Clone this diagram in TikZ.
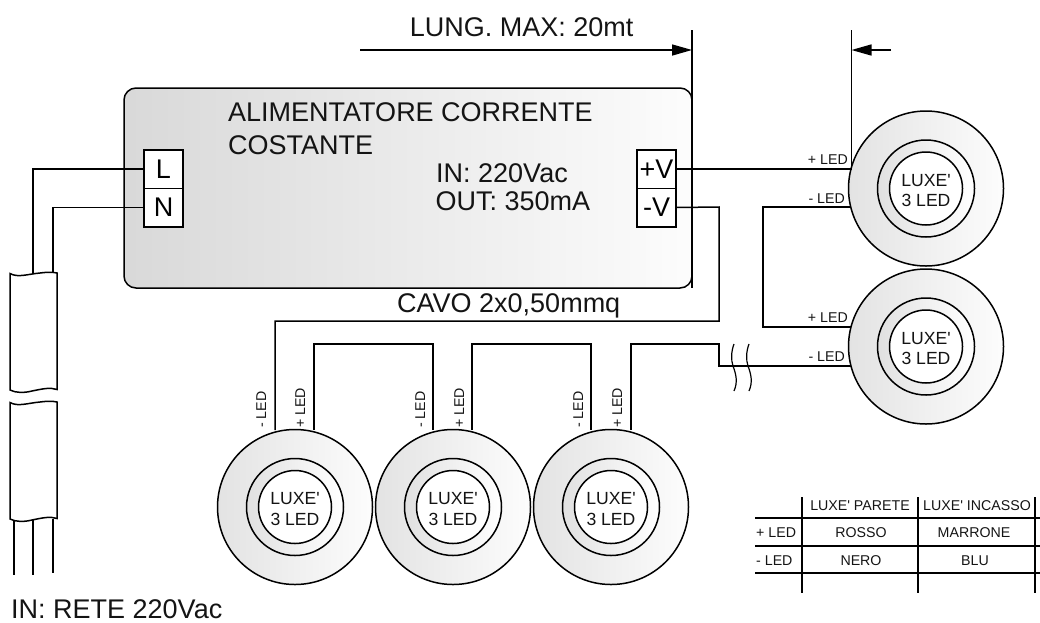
\documentclass[tikz,border=0pt]{standalone}
\usepackage{fontspec}
\setmainfont{Liberation Sans}
\usetikzlibrary{arrows.meta}
\newcommand{\fbig}{\fontsize{27}{29}\selectfont}
\newcommand{\fmid}{\fontsize{17.6}{19}\selectfont}
\newcommand{\fsmall}{\fontsize{14.2}{16}\selectfont}
\tikzset{
  wire/.style={line width=1.5pt,draw=black},
  dimline/.style={wire,-{Triangle[length=20pt,width=11pt]}},
  term/.style={draw=black,line width=1.5pt,fill=white,minimum width=39pt,minimum height=38.5pt,inner sep=0pt,outer sep=0pt,font=\fbig},
  bigtext/.style={anchor=base west,inner sep=0pt,font=\fbig,text=black!92},
  ledtext/.style={inner sep=0pt,font=\fsmall,text=black!92},
  cell/.style={anchor=base,inner sep=0pt,font=\fsmall,text=black!92},
  lamp/.style={circle,draw=black,line width=1.5pt,inner sep=0pt,outer sep=0pt,minimum size=#1},
  lampouter/.style={left color=black!11,right color=black!1},
  lampmiddle/.style={left color=black!12,right color=white},
  cable/.style={wire,fill=white},
  lamptext/.style={anchor=base,inner sep=0pt,font=\fmid,text=black!92},
}
\newcommand{\lampat}[3]{%
  \node[lamp=155pt,lampouter] (#1) at (#2,#3) {};
  \node[lamp=97pt,lampmiddle] (#1m) at (#2,#3) {};
  \node[lamp=73pt,fill=white] (#1i) at (#2,#3) {};
  \node[lamptext] (#1a) at (#2,#3-2.5) {LUXE\textquotesingle};
  \node[lamptext] (#1b) at (#2,#3+18) {3 LED};
}
\begin{document}
\begin{tikzpicture}[x=1pt,y=-1pt]
\useasboundingbox (0,0) rectangle (1040,622);
% power supply
\node[draw=black,line width=1.5pt,rounded corners=12pt,left color=black!15,right color=black!1,minimum width=568pt,minimum height=200pt,inner sep=0pt,outer sep=0pt] (psu) at (408,188) {};
\node[term] (L) at (163.5,169) {\raisebox{-1pt}{L}};
\node[term] (N) at (163.5,207.5) {\raisebox{-1pt}{N}};
\node[term] (pV) at (656.5,169) {\raisebox{-1pt}{+V}};
\node[term] (mV) at (656.5,207.5) {\raisebox{-1pt}{-V}};
\node[bigtext] (t1) at (228,121.5) {ALIMENTATORE CORRENTE};
\node[bigtext] (t2) at (228,154) {COSTANTE};
\node[bigtext] (t3) at (436,182.5) {IN: 220Vac};
\node[bigtext] (t4) at (435.5,210.7) {OUT: 350mA};
\node[bigtext] (t5) at (397,312.7) {CAVO 2x0,50mmq};
\node[bigtext] (t6) at (409.7,36.5) {LUNG. MAX: 20mt};
\node[bigtext] (t7) at (11,618) {IN: RETE 220Vac};
% lamps
\lampat{A}{926}{188.5}
\lampat{B}{926}{346.5}
\lampat{C}{295}{507}
\lampat{D}{453}{507}
\lampat{E}{611}{507}
% mains wires and cable
\coordinate (lc) at (33,275);
\coordinate (nc) at (53,275);
\draw[wire] (L.west) -| (lc);
\draw[wire] (N.west) -| (nc);
\draw[cable] (10,273.5) .. controls (18,278) and (28,274) .. (40,273) .. controls (48,272) and (52,272) .. (57,273) -- (57,389.5) .. controls (50,387) and (42,389) .. (32,391) .. controls (24,393) and (16,393) .. (10,390) -- cycle;
\draw[cable] (10,402.5) .. controls (18,407) and (28,403) .. (40,402) .. controls (48,401) and (52,401) .. (57,402) -- (57,518.5) .. controls (50,516) and (42,518) .. (32,520) .. controls (24,522) and (16,522) .. (10,519) -- cycle;
\coordinate (w1a) at (14,521); \coordinate (w1b) at (14,575);
\coordinate (w2a) at (33,520); \coordinate (w2b) at (33,575);
\coordinate (w3a) at (53,519); \coordinate (w3b) at (53,573);
\draw[wire] (w1a) -- (w1b);
\draw[wire] (w2a) -- (w2b);
\draw[wire] (w3a) -- (w3b);
% output wiring
\coordinate (Ap) at (851.5,169);
\coordinate (Am) at (851,207);
\coordinate (Bp) at (851,327);
\coordinate (Bm) at (851,366);
\draw[wire] (pV.east) -- (Ap);
\draw[wire] (Am) -- (763,207) -- (763,327) -- (Bp);
\coordinate (Cm) at (275,430); \coordinate (Cp) at (314,430);
\coordinate (Dm) at (433,430); \coordinate (Dp) at (472,430);
\coordinate (Em) at (591,430); \coordinate (Ep) at (631,430);
\draw[wire] (mV.east) -- (719,207) -- (719,321) -- (275,321) -- (Cm);
\draw[wire] (Cp) -- (314,344) -- (433,344) -- (Dm);
\draw[wire] (Dp) -- (472,344) -- (591,344) -- (Em);
\draw[wire] (Ep) -- (631,344) -- (719,344) -- (719,366) -- (Bm);
% cable break marks
\draw[wire,line width=1.2pt] (734,344) .. controls (731,352) and (731,360) .. (733,366) .. controls (736,374) and (738,382) .. (734,391);
\draw[wire,line width=1.2pt] (749,344) .. controls (746,352) and (746,360) .. (748,366) .. controls (751,374) and (753,382) .. (749,391);
% dimensions
\coordinate (d1t) at (692,30); \coordinate (d1b) at (692,288);
\coordinate (d2t) at (851.5,30);
\coordinate (a1s) at (360,50); \coordinate (a1e) at (692,50);
\coordinate (a2s) at (891,50); \coordinate (a2e) at (851.5,50);
\draw[wire] (d1t) -- (d1b);
\draw[wire] (d2t) -- (Ap);
\draw[dimline] (a1s) -- (a1e);
\draw[dimline] (a2s) -- (a2e);
% LED labels
\node[ledtext,anchor=base east] (l1) at (848,164.5) {+ LED};
\node[ledtext,anchor=base east] (l2) at (845,203.5) {- LED};
\node[ledtext,anchor=base east] (l3) at (848,322.5) {+ LED};
\node[ledtext,anchor=base east] (l4) at (845,361.5) {- LED};
\foreach \n/\xm/\xp in {c/266/305,d/425/464,e/583/622}{
  \node[ledtext,anchor=base west,rotate=90] (\n m) at (\xm,428) {- LED};
  \node[ledtext,anchor=base west,rotate=90] (\n p) at (\xp,428) {+ LED};
}
% table
\coordinate (h1a) at (755,518); \coordinate (h1b) at (1040,518);
\coordinate (h2a) at (755,546); \coordinate (h2b) at (1040,546);
\coordinate (h3a) at (755,573); \coordinate (h3b) at (1040,573);
\draw[wire] (h1a) -- (h1b);
\draw[wire] (h2a) -- (h2b);
\draw[wire] (h3a) -- (h3b);
\coordinate (v1a) at (802,497); \coordinate (v1b) at (802,593);
\coordinate (v2a) at (918,497); \coordinate (v2b) at (918,593);
\coordinate (v3a) at (1035,497); \coordinate (v3b) at (1035,593);
\draw[wire] (v1a) -- (v1b);
\draw[wire] (v2a) -- (v2b);
\draw[wire] (v3a) -- (v3b);
\node[cell] (c1) at (860,510) {LUXE\textquotesingle{} PARETE};
\node[cell] (c2) at (977,510) {LUXE\textquotesingle{} INCASSO};
\node[cell,anchor=base west] (c3) at (756,537) {+ LED};
\node[cell] (c4) at (861,537) {ROSSO};
\node[cell] (c5) at (974,537) {MARRONE};
\node[cell,anchor=base west] (c6) at (756,565) {- LED};
\node[cell] (c7) at (861,565) {NERO};
\node[cell] (c8) at (975,565) {BLU};
\end{tikzpicture}
\end{document}
